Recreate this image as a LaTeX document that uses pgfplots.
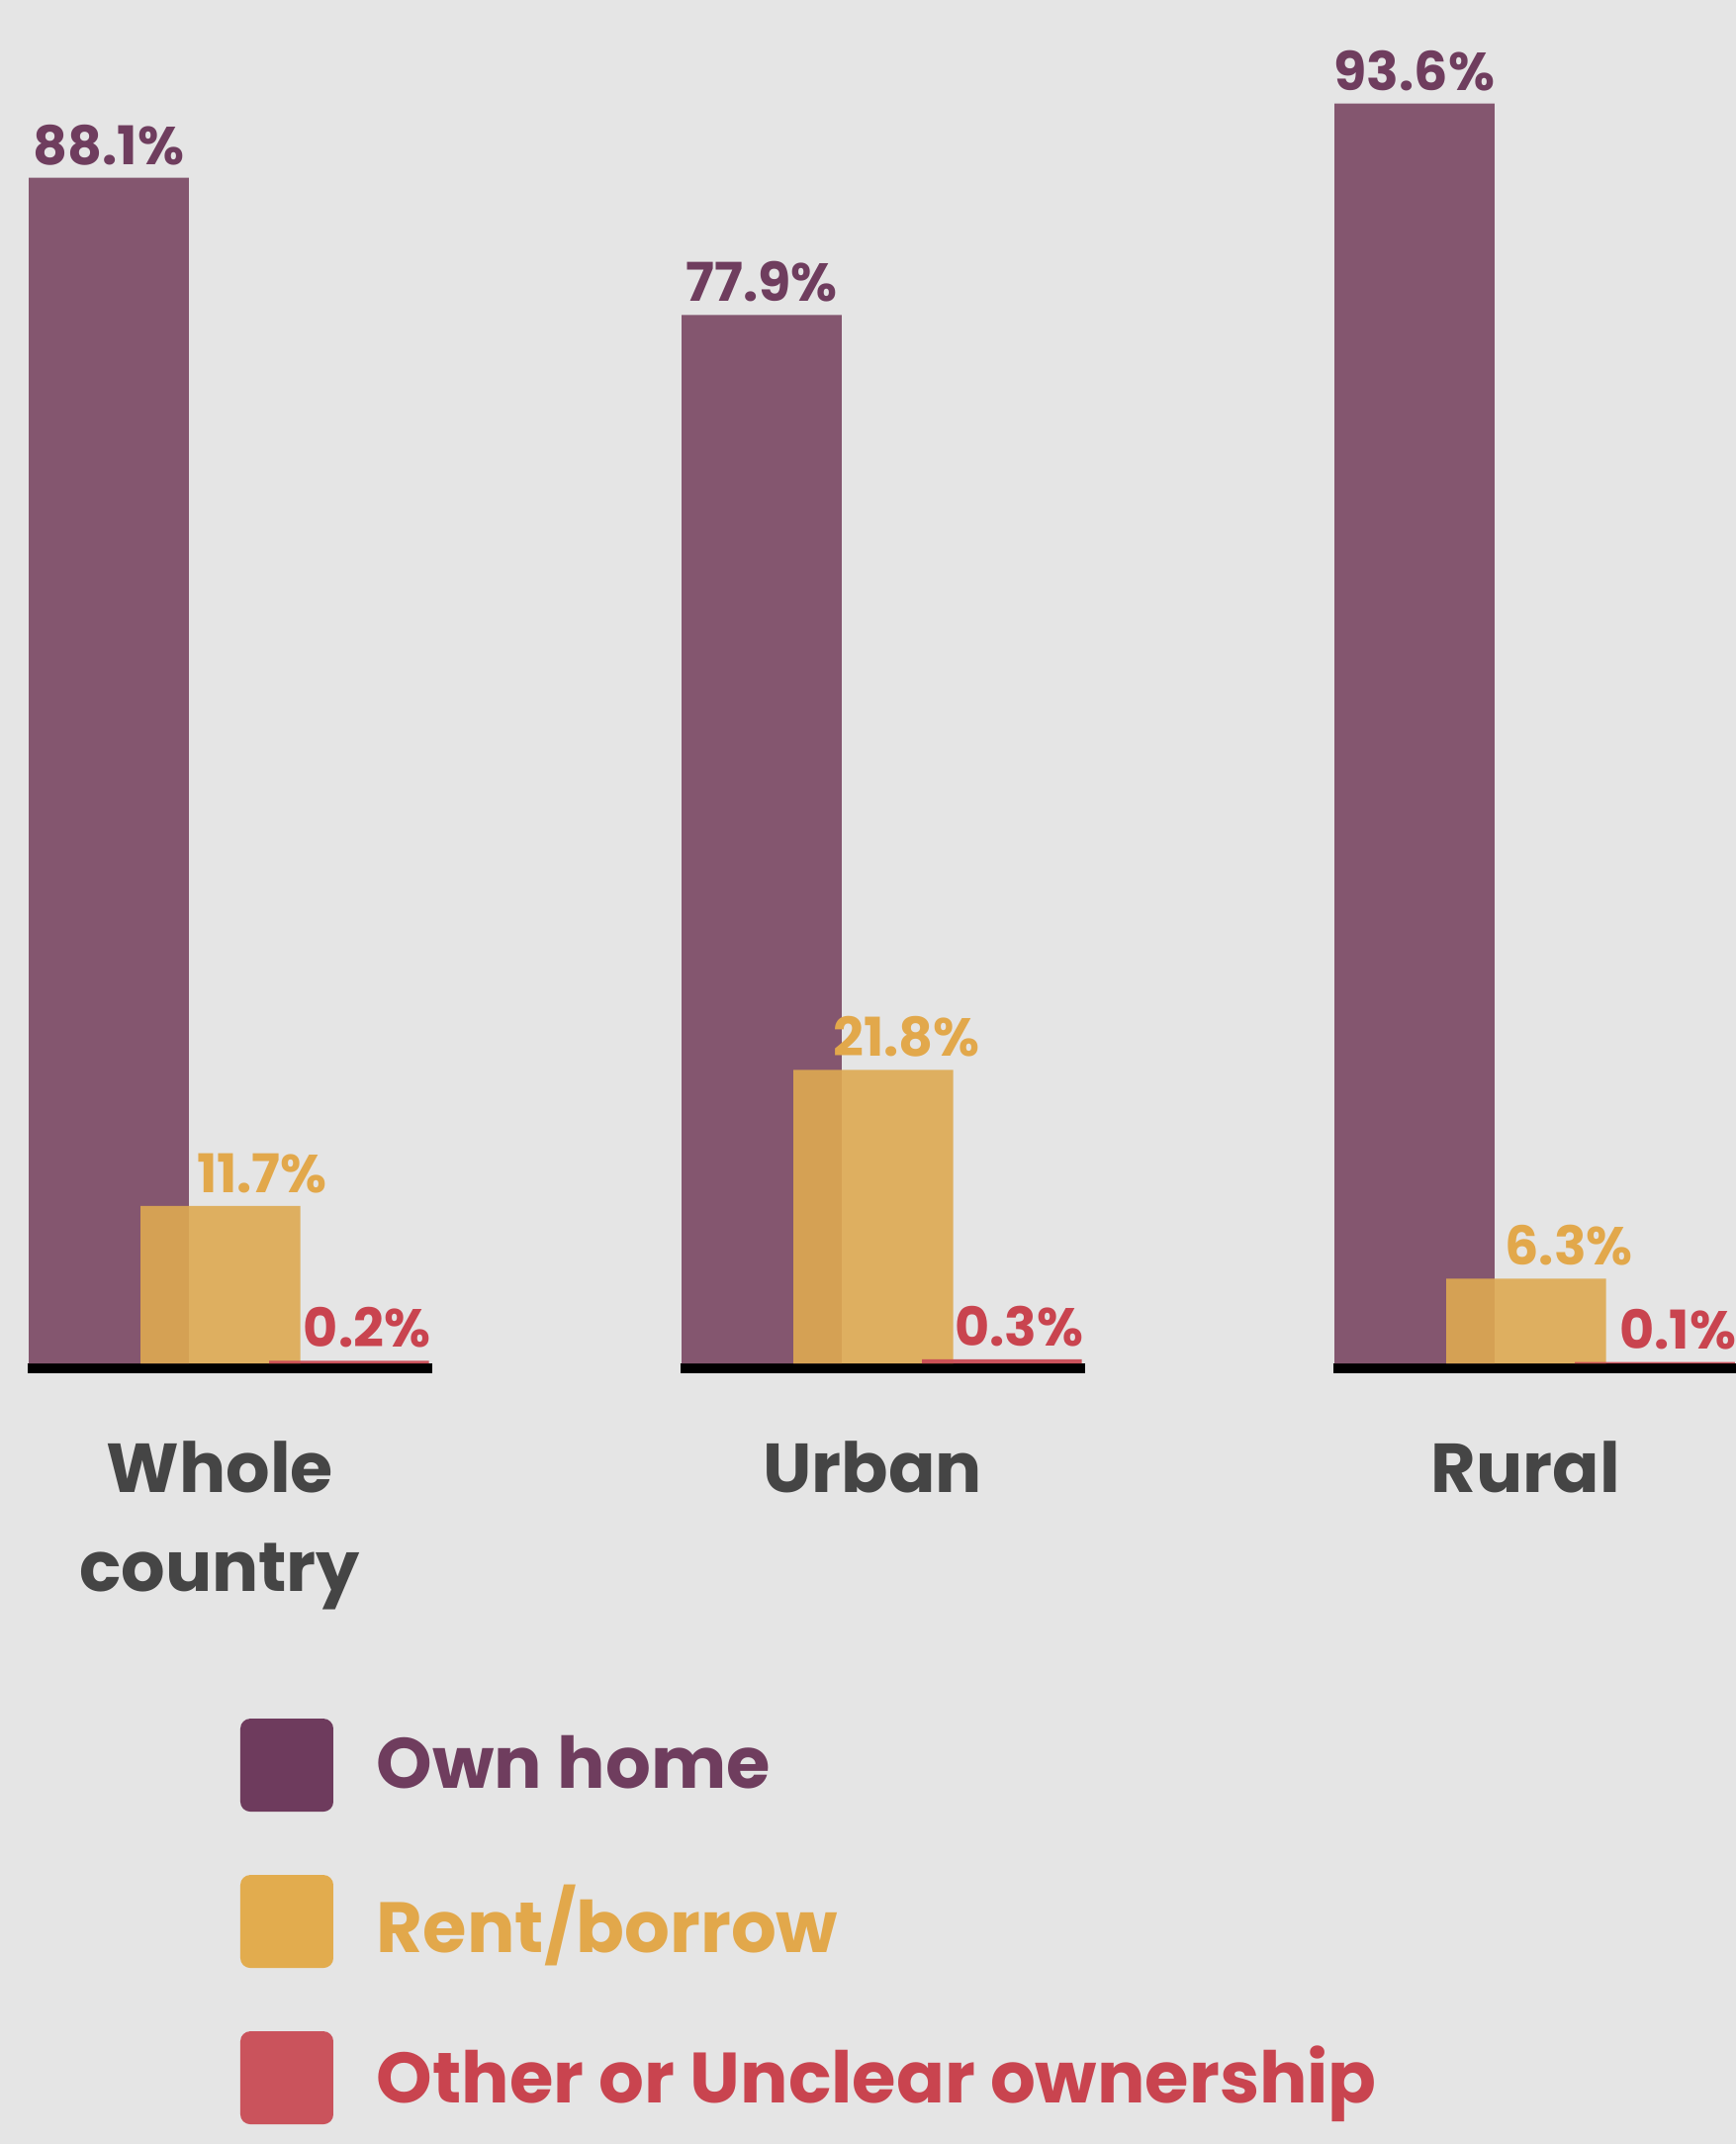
\documentclass[border=0pt]{standalone}
\usepackage{pgfplots}
\pgfplotsset{compat=1.18}
\usepackage{pgfplotstable}
\usepackage{fontspec}
\setmainfont{Poppins}

\definecolor{bg}{HTML}{E5E5E5}
\definecolor{ownc}{HTML}{84566F}
\definecolor{ownlab}{HTML}{6F3D5E}
\definecolor{ownleg}{HTML}{6E3B5D}
\definecolor{rentc}{HTML}{DEAA52}
\definecolor{rentlab}{HTML}{E2A84B}
\definecolor{rentleg}{HTML}{E2A63E}
\definecolor{otherc}{HTML}{C94C55}
\definecolor{otherlab}{HTML}{C9444F}
\definecolor{grouplab}{HTML}{454545}

% one series per table: group position, share in %
\pgfplotstableread{
x  y
0  88.1
1  77.9
2  93.6
}\owndata
\pgfplotstableread{
x  y
0  11.7
1  21.8
2  6.3
}\rentdata
\pgfplotstableread{
x  y
0  0.2
1  0.3
2  0.1
}\otherdata

\begin{document}
\begin{tikzpicture}
\path[use as bounding box, fill=bg] (0,0) rectangle (438.75pt,541.75pt);
\clip (0,0) rectangle (438.75pt,541.75pt);
\begin{axis}[
    at={(0pt,197.25pt)}, anchor=south west,
    scale only axis, width=438.75pt, height=344.5pt,
    xmin=-0.16667, xmax=2.4924, ymin=0, ymax=101.3,
    clip=false,
    axis line style={draw=none},
    major tick length=0pt,
    ytick=\empty,
    xtick={0.17,1.17,2.17},
    xticklabels={{Whole\\country},Urban,Rural},
    xticklabel style={align=center, anchor=north, inner sep=0pt, yshift=-19.5pt,
        font=\fontsize{17.5}{25}\selectfont\bfseries, text=grouplab},
    /pgf/number format/assume math mode=true,
    nodes near coords={\pgfmathprintnumber[fixed,precision=1,fixed zerofill]{\pgfplotspointmeta}\%},
    every node near coord/.append style={font=\fontsize{13.5}{16}\selectfont\bfseries, inner sep=0pt, yshift=3pt},
    legend style={at={(0.138,-0.26)}, anchor=north west, draw=none, fill=none,
        inner sep=0pt, row sep=16pt, font=\fontsize{18}{21}\selectfont\bfseries,
        /tikz/every odd column/.append style={column sep=9pt}},
    legend cell align=left,
]
% black baselines under each group
\addplot[black, line width=2.5pt, yshift=-1.25pt, forget plot, nodes near coords={}] coordinates {(-0.125,0) (0.495,0)};
\addplot[black, line width=2.5pt, yshift=-1.25pt, forget plot, nodes near coords={}] coordinates {(0.875,0) (1.495,0)};
\addplot[black, line width=2.5pt, yshift=-1.25pt, forget plot, nodes near coords={}] coordinates {(1.875,0) (2.495,0)};

\addplot[ybar, bar width=0.245, bar shift=0, fill=ownc, draw=none,
    every node near coord/.append style={text=ownlab, anchor=south},
    legend image code/.code={\fill[ownleg, rounded corners=2.5pt] (0pt,-11.75pt) rectangle (23.5pt,11.75pt);}]
    table[x=x, y=y] {\owndata};
\addlegendentry{\textcolor{ownlab}{Own home}}

\addplot[ybar, bar width=0.245, bar shift=0.171, fill=rentc, fill opacity=0.9, draw=none,
    every node near coord/.append style={text=rentlab, anchor=south east, xshift=55.4pt, text opacity=1},
    legend image code/.code={\fill[rentleg, rounded corners=2.5pt] (0pt,-11.75pt) rectangle (23.5pt,11.75pt);}]
    table[x=x, y=y] {\rentdata};
\addlegendentry{\textcolor{rentlab}{Rent/borrow}}

\addplot[ybar, bar width=0.245, bar shift=0.368, fill=otherc, fill opacity=0.95, draw=none,
    every node near coord/.append style={text=otherlab, anchor=south east, xshift=81.5pt, text opacity=1},
    legend image code/.code={\fill[otherc, rounded corners=2.5pt] (0pt,-11.75pt) rectangle (23.5pt,11.75pt);}]
    table[x=x, y=y] {\otherdata};
\addlegendentry{\textcolor{otherlab}{Other or Unclear ownership}}
\end{axis}
\end{tikzpicture}
\end{document}
